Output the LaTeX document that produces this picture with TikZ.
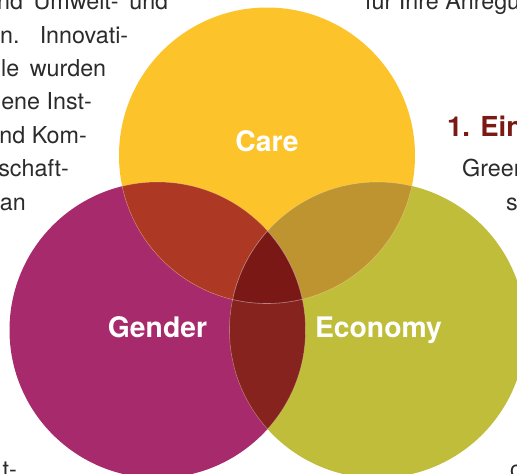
\documentclass[tikz,border=0pt]{standalone}
\usepackage{fontspec}
\setmainfont{TeX Gyre Heros}
\definecolor{careY}{HTML}{FDC32A}
\definecolor{genderM}{HTML}{A72A6D}
\definecolor{econO}{HTML}{BFBD3A}
\definecolor{careGender}{HTML}{AD3823}
\definecolor{careEcon}{HTML}{BE9431}
\definecolor{genderEcon}{HTML}{87231E}
\definecolor{allThree}{HTML}{7A1815}
\definecolor{bodytext}{HTML}{2B2B2B}
\definecolor{headred}{HTML}{7B1A14}
\tikzset{
  body/.style={inner sep=0pt, text=bodytext, font=\fontsize{23.3}{28}\selectfont},
  head/.style={inner sep=0pt, text=headred, font=\fontsize{27.5}{32}\selectfont\bfseries},
  vennlabel/.style={inner sep=0pt, anchor=base, text=white, font=\fontsize{28.3}{32}\selectfont\bfseries},
  seam/.style={draw=white, draw opacity=0.25, line width=0.6pt},
}
\begin{document}
\begin{tikzpicture}[x=1pt, y=-1pt]
\useasboundingbox (0,0) rectangle (517,474);
\clip (0,0) rectangle (517,474);

% circle centres and radius
\coordinate (care) at (267,155.5);
\coordinate (gender) at (157.5,330);
\coordinate (econ) at (377.5,330);
\def\rr{148pt}

% base discs
\fill[genderM] (gender) circle[radius=\rr];
\fill[econO] (econ) circle[radius=\rr];
\fill[careY] (care) circle[radius=\rr];

% pairwise overlaps
\begin{scope}
  \clip (care) circle[radius=\rr];
  \fill[careGender] (gender) circle[radius=\rr];
\end{scope}
\begin{scope}
  \clip (care) circle[radius=\rr];
  \fill[careEcon] (econ) circle[radius=\rr];
\end{scope}
\begin{scope}
  \clip (gender) circle[radius=\rr];
  \fill[genderEcon] (econ) circle[radius=\rr];
\end{scope}
% centre region
\begin{scope}
  \clip (care) circle[radius=\rr];
  \clip (gender) circle[radius=\rr];
  \fill[allThree] (econ) circle[radius=\rr];
\end{scope}

% faint seams where an outline runs across another disc
\begin{scope}
  \clip (gender) circle[radius=\rr];
  \draw[seam] (care) circle[radius=\rr];
  \draw[seam] (econ) circle[radius=\rr];
\end{scope}
\begin{scope}
  \clip (econ) circle[radius=\rr];
  \draw[seam] (care) circle[radius=\rr];
  \draw[seam] (gender) circle[radius=\rr];
\end{scope}
\begin{scope}
  \clip (care) circle[radius=\rr];
  \draw[seam] (gender) circle[radius=\rr];
  \draw[seam] (econ) circle[radius=\rr];
\end{scope}

% labels
\node[vennlabel] (lcare) at (267,151) {Care};
\node[vennlabel] (lgender) at (157.5,337) {Gender};
\node[vennlabel] (lecon) at (378.5,337) {Economy};

% surrounding page text, left column
\node[body, anchor=base west] (l1) at (-3,9.5) {\makebox[171pt][s]{nd Umwelt- und}};
\node[body, anchor=base west] (l2) at (0,43) {\makebox[128pt][s]{n. Innovati-}};
\node[body, anchor=base west] (l3) at (1,76.3) {\makebox[105pt][s]{le wurden}};
\node[body, anchor=base east] (l4) at (92,109.8) {ene Inst-};
\node[body, anchor=base east] (l5) at (87,143.2) {nd Kom-};
\node[body, anchor=base east] (l6) at (69,176.6) {schaft-};
\node[body, anchor=base east] (l7) at (26,210) {an};
\node[body, anchor=base east] (l8) at (17,477) {t-};

% right column
\node[body, anchor=base west] (r1) at (365,9.5) {für Ihre Anregung};
\node[head, anchor=base west] (r2) at (447,136.5) {1. Einleitung};
\node[body, anchor=base west] (r3) at (462,176.6) {Greenwashing};
\node[body, anchor=base west] (r4) at (506,210) {so};
\node[body, anchor=base west] (r5) at (510,477) {c};
\end{tikzpicture}
\end{document}
